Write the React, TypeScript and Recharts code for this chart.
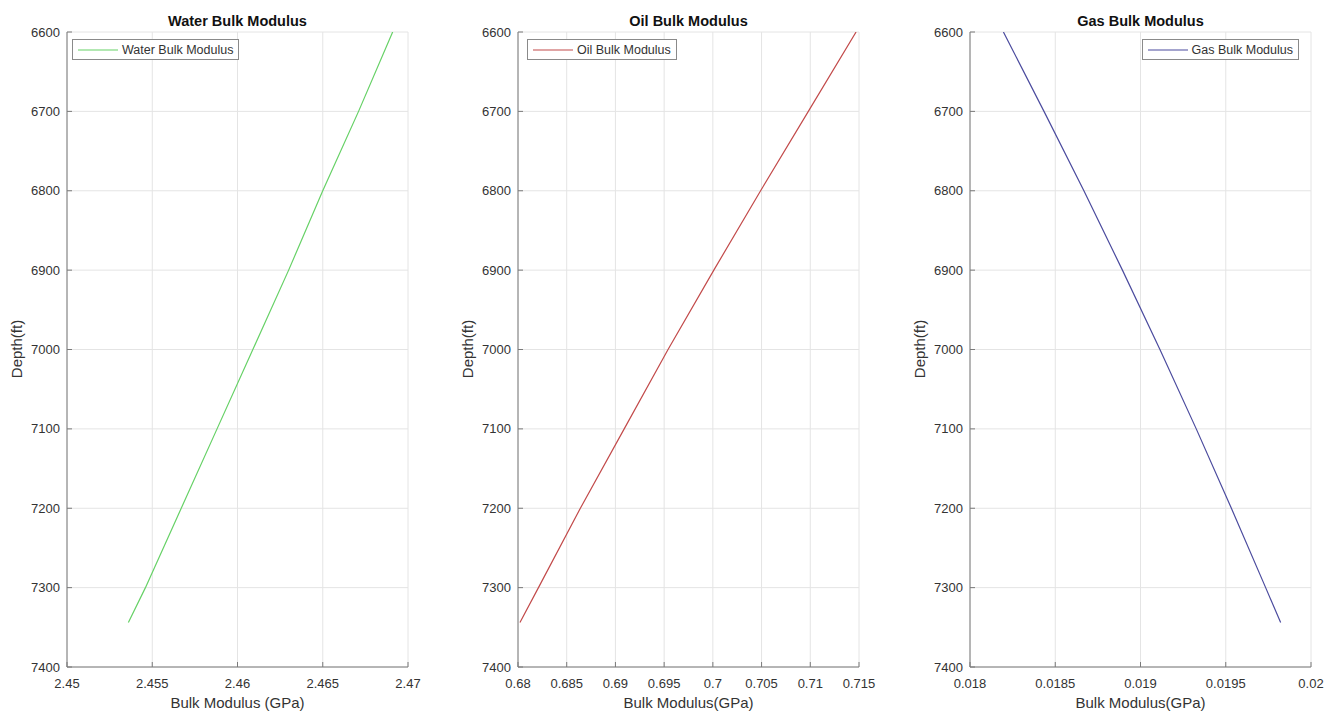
import React from 'react';
import { LineChart, Line, XAxis, YAxis, CartesianGrid } from 'recharts';

// depth samples (ft) and bulk modulus readings (GPa)
const depths = [6600, 6700, 6800, 6900, 7000, 7100, 7200, 7300, 7344];
const waterK = [2.4691, 2.4671, 2.465, 2.463, 2.4609, 2.4588, 2.4567, 2.4546, 2.4536];
const oilK = [0.7147, 0.7098, 0.7049, 0.7001, 0.6954, 0.6909, 0.6864, 0.6821, 0.6802];
const gasK = [0.018196, 0.018434, 0.018668, 0.018894, 0.019114, 0.019327, 0.019533, 0.019734, 0.019822];

const depthTicks = [6600, 6700, 6800, 6900, 7000, 7100, 7200, 7300, 7400];
const waterTicks = [2.45, 2.455, 2.46, 2.465, 2.47];
const oilTicks = [0.68, 0.685, 0.69, 0.695, 0.7, 0.705, 0.71, 0.715];
const gasTicks = [0.018, 0.0185, 0.019, 0.0195, 0.02];

const AXIS = '#7a7a7a';
const GRID = '#e4e4e4';
const TXT = '#333';
const FONT = '"Liberation Sans", Arial, Helvetica, sans-serif';

const toRows = (vals: number[]) => depths.map((d, i) => ({ depth: d, k: vals[i] }));

const BottomTick = ({ x, y, payload }: any) => (
  <g>
    <line x1={x} x2={x} y1={y} y2={y - 5} stroke={AXIS} />
    <text x={x} y={y + 21} textAnchor="middle" fontSize={13} fill={TXT} fontFamily={FONT}>
      {payload.value}
    </text>
  </g>
);
const TopTick = ({ x, y }: any) => <line x1={x} x2={x} y1={y} y2={y + 5} stroke={AXIS} />;
const LeftTick = ({ x, y, payload }: any) => (
  <g>
    <line x1={x} x2={x + 5} y1={y} y2={y} stroke={AXIS} />
    <text x={x - 7} y={y + 4.6} textAnchor="end" fontSize={13} fill={TXT} fontFamily={FONT}>
      {payload.value}
    </text>
  </g>
);
const RightTick = ({ x, y }: any) => <line x1={x} x2={x - 5} y1={y} y2={y} stroke={AXIS} />;

function Panel({ plotLeft, title, xLabel, name, values, ticks, color, legendLeft, legendRight }: any) {
  const left = plotLeft - 67;
  const domain = [ticks[0], ticks[ticks.length - 1]];
  return (
    <div style={{ position: 'absolute', left, top: 0, width: 440, height: 715 }}>
      <LineChart
        width={440}
        height={715}
        layout="vertical"
        data={toRows(values)}
        margin={{ top: 32, right: 32, bottom: 8, left: 17 }}
      >
        <CartesianGrid xAxisId="b" yAxisId="l" stroke={GRID} />
        <XAxis
          xAxisId="b"
          type="number"
          orientation="bottom"
          domain={domain}
          ticks={ticks}
          interval={0}
          allowDataOverflow
          height={40}
          tickSize={0}
          tickMargin={0}
          axisLine={{ stroke: AXIS }}
          tick={<BottomTick />}
        />
        <XAxis
          xAxisId="t"
          type="number"
          orientation="top"
          domain={domain}
          ticks={ticks}
          interval={0}
          allowDataOverflow
          height={0}
          tickSize={0}
          tickMargin={0}
          axisLine={{ stroke: AXIS }}
          tick={<TopTick />}
        />
        <YAxis
          yAxisId="l"
          type="number"
          dataKey="depth"
          domain={[6600, 7400]}
          ticks={depthTicks}
          interval={0}
          allowDataOverflow
          width={50}
          tickSize={0}
          tickMargin={0}
          axisLine={{ stroke: AXIS }}
          tick={<LeftTick />}
        />
        <YAxis
          yAxisId="r"
          type="number"
          dataKey="depth"
          orientation="right"
          domain={[6600, 7400]}
          ticks={depthTicks}
          interval={0}
          allowDataOverflow
          width={0}
          tickSize={0}
          tickMargin={0}
          axisLine={{ stroke: AXIS }}
          tick={<RightTick />}
        />
        <Line
          xAxisId="b"
          yAxisId="l"
          dataKey="k"
          name={name}
          stroke={color}
          strokeWidth={1.2}
          dot={false}
          isAnimationActive={false}
        />
      </LineChart>

      <div style={{ position: 'absolute', left: 67, width: 341, top: 11, height: 20, lineHeight: '20px', textAlign: 'center', fontWeight: 'bold', fontSize: 14.5, color: '#111' }}>
        {title}
      </div>
      <div style={{ position: 'absolute', left: 67, width: 341, top: 693, height: 20, lineHeight: '20px', textAlign: 'center', fontSize: 15, color: TXT }}>
        {xLabel}
      </div>
      <div style={{ position: 'absolute', left: 16, top: 349, transform: 'translate(-50%, -50%) rotate(-90deg)', fontSize: 15, color: TXT, whiteSpace: 'nowrap' }}>
        Depth(ft)
      </div>
      <div
        style={{
          position: 'absolute',
          top: 39,
          left: legendLeft,
          right: legendRight,
          height: 21,
          border: '1px solid #8a8a8a',
          boxSizing: 'border-box',
          background: '#fff',
          display: 'flex',
          alignItems: 'center',
          padding: '0 5px 0 5px',
          fontSize: 12.5,
          color: TXT,
          whiteSpace: 'nowrap',
        }}
      >
        <svg width={40} height={10} style={{ marginRight: 4 }}>
          <line x1={0} x2={40} y1={5} y2={5} stroke={color} strokeWidth={1.2} />
        </svg>
        <span>{name}</span>
      </div>
    </div>
  );
}

export default function App() {
  return (
    <div style={{ position: 'relative', width: 1328, height: 715, background: '#fff', fontFamily: FONT, overflow: 'hidden' }}>
      <style>{'body{margin:0}'}</style>
      <Panel
        plotLeft={67}
        title="Water Bulk Modulus"
        xLabel="Bulk Modulus (GPa)"
        name="Water Bulk Modulus"
        values={waterK}
        ticks={waterTicks}
        color="#66d166"
        legendLeft={72}
      />
      <Panel
        plotLeft={518}
        title="Oil Bulk Modulus"
        xLabel="Bulk Modulus(GPa)"
        name="Oil Bulk Modulus"
        values={oilK}
        ticks={oilTicks}
        color="#c24a4a"
        legendLeft={76}
      />
      <Panel
        plotLeft={970}
        title="Gas Bulk Modulus"
        xLabel="Bulk Modulus(GPa)"
        name="Gas Bulk Modulus"
        values={gasK}
        ticks={gasTicks}
        color="#4b4b9e"
        legendRight={44}
      />
    </div>
  );
}
